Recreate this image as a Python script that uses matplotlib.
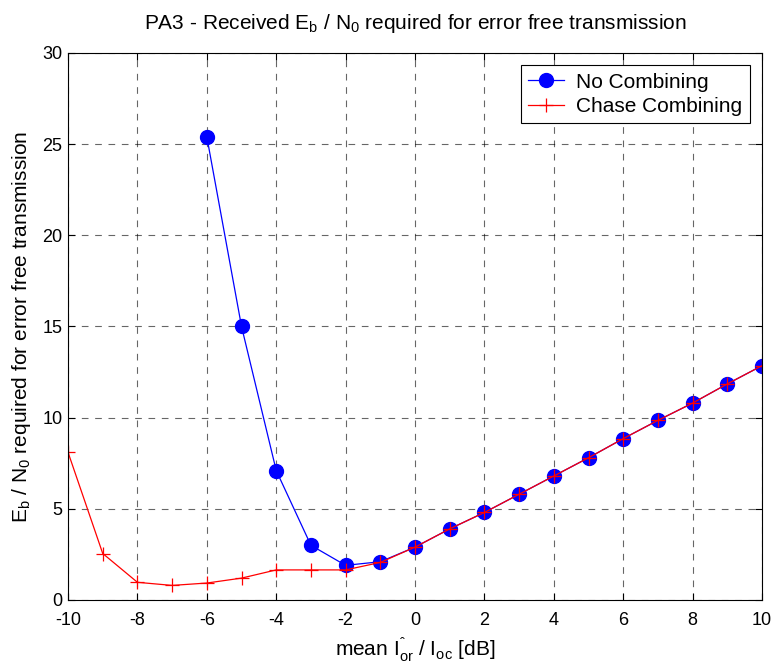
import matplotlib
matplotlib.use("Agg")
import matplotlib.pyplot as plt

# values
snr_db = [-10, -9, -8, -7, -6, -5, -4, -3, -2, -1, 0, 1, 2, 3, 4, 5, 6, 7, 8, 9, 10]

no_comb_x = [-6, -5, -4, -3, -2, -1, 0, 1, 2, 3, 4, 5, 6, 7, 8, 9, 10]
no_comb = [25.4, 15.0, 7.1, 3.0, 1.9, 2.1, 2.9, 3.9, 4.8, 5.8, 6.8, 7.8,
           8.85, 9.85, 10.8, 11.85, 12.85]

chase_comb = [8.1, 2.55, 0.97, 0.8, 0.93, 1.2, 1.65, 1.65, 1.65, 2.06, 2.9,
              3.9, 4.8, 5.8, 6.8, 7.8, 8.85, 9.85, 10.8, 11.85, 12.85]

x_ticks = [-10, -8, -6, -4, -2, 0, 2, 4, 6, 8, 10]
y_ticks = [0, 5, 10, 15, 20, 25, 30]

plt.rcParams['font.family'] = ['Liberation Sans', 'DejaVu Sans']
plt.rcParams['mathtext.fontset'] = 'custom'
plt.rcParams['mathtext.rm'] = 'Liberation Sans'
plt.rcParams['mathtext.it'] = 'Liberation Sans'
plt.rcParams['mathtext.bf'] = 'Liberation Sans'
plt.rcParams['axes.unicode_minus'] = False

fig = plt.figure(figsize=(7.74, 6.68), dpi=100)
ax = fig.add_axes([0.0879, 0.1018, 0.8966, 0.8189])

ax.plot(no_comb_x, no_comb, color='blue', linewidth=0.9, marker='o',
        markersize=10, markerfacecolor='blue', markeredgecolor='blue',
        label='No Combining')
ax.plot(snr_db, chase_comb, color='red', linewidth=0.9, marker='+',
        markersize=10, markeredgewidth=0.9, label='Chase Combining')

ax.set_xlim(-10, 10)
ax.set_ylim(0, 30)
ax.set_xticks(x_ticks)
ax.set_yticks(y_ticks)
ax.tick_params(direction='in', top=True, right=True, length=5, labelsize=13)
ax.tick_params(axis='x', pad=9)
ax.tick_params(axis='y', pad=4)
ax.grid(True, color='black', linestyle=(0, (6, 6)), linewidth=0.8, alpha=0.6)
for s in ax.spines.values():
    s.set_linewidth(0.8)

ax.set_title('PA3 - Received E$_\\mathrm{b}$ / N$_\\mathrm{0}$ required for error free transmission',
             fontsize=15, pad=17)
ax.set_xlabel('mean I$^{\u02c6}_{\\mathrm{or}}$ / I$_{\\mathrm{oc}}$ [dB]', fontsize=15)
ax.set_ylabel('E$_\\mathrm{b}$ / N$_\\mathrm{0}$ required for error free transmission', fontsize=15)
ax.xaxis.set_label_coords(0.5, -0.064)
ax.yaxis.set_label_coords(-0.05, 0.5)

leg = ax.legend(loc='upper right', fontsize=15, fancybox=False, framealpha=1,
                edgecolor='black', borderaxespad=0.6, handlelength=1.7,
                handletextpad=0.6, borderpad=0.35, labelspacing=0.25)
leg.get_frame().set_linewidth(0.8)

fig.savefig('out.png', dpi=100)
